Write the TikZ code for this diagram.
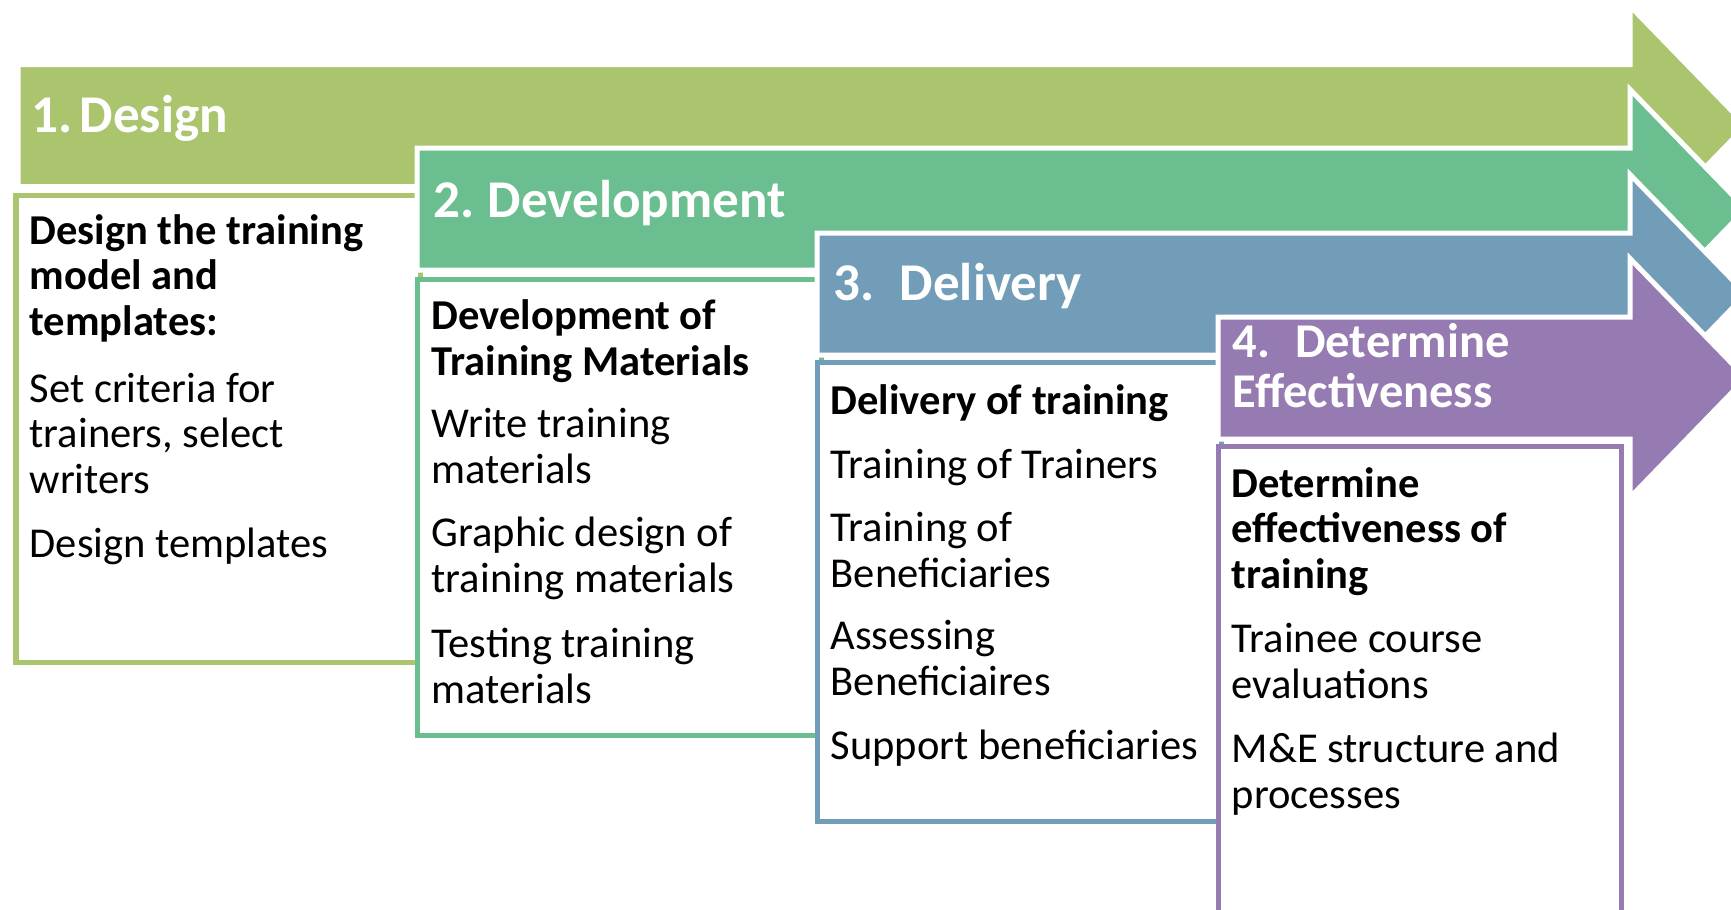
\documentclass[tikz,border=0pt]{standalone}
\usepackage{fontspec}
\setmainfont{Carlito}
\usetikzlibrary{positioning}

\definecolor{designgreen}{RGB}{171,196,110}
\definecolor{devgreen}{RGB}{106,190,143}
\definecolor{deliveryblue}{RGB}{113,157,184}
\definecolor{effectpurple}{RGB}{149,123,177}

\begin{document}
\begin{tikzpicture}[x=0.01cm, y=-0.01cm,
    steparrow/.style={fill=#1, draw=white, line width=0.05cm},
    stepbox/.style={fill=white, draw=#1, line width=0.05cm},
    headtext/.style={anchor=base west, inner sep=0pt, align=left, text=white,
        font=\fontsize{15.1}{14.2}\selectfont\bfseries},
    boldtext/.style={anchor=base west, inner sep=0pt, align=left,
        font=\fontsize{12.1}{12.9}\selectfont\bfseries},
    plaintext/.style={anchor=base west, inner sep=0pt, align=left,
        font=\fontsize{12.1}{12.9}\selectfont}]
    \useasboundingbox (0,0) rectangle (1731,909);
    \clip (0,0) rectangle (1731,909);

    % step 1 (base anchor = last line)
    \filldraw[steparrow=designgreen] (18,64.5) -- (1630,64.5) -- (1630,6)
    -- (1746,125.5) -- (1630,245) -- (1630,186.5) -- (18,186.5) -- cycle;
    \filldraw[stepbox=designgreen] (16,195.5) rectangle (420,662);
    \node[headtext] (designhead) at (31,132) {1.\hspace{0.07cm}Design};
    \node[boldtext] (designtitle) at (29,335) {Design the training\\model and\\templates:};
    \node[plaintext] (designitema) at (29,493) {Set criteria for\\trainers, select\\writers};
    \node[plaintext] (designitemb) at (29,557) {Design templates};

    % step 2
    \filldraw[steparrow=devgreen] (417,148) -- (1630,148) -- (1630,89.5)
    -- (1746,209) -- (1630,328.5) -- (1630,270) -- (417,270) -- cycle;
    \filldraw[stepbox=devgreen] (417,279.5) rectangle (821,735.5);
    \node[headtext] (devhead) at (433,217) {2.\hspace{0.13cm}Development};
    \node[boldtext] (devtitle) at (431,375) {Development of\\Training Materials};
    \node[plaintext] (devitema) at (431,483) {Write training\\materials};
    \node[plaintext] (devitemb) at (431,592) {Graphic design of\\training materials};
    \node[plaintext] (devitemc) at (431,703) {Testing training\\materials};

    % step 3
    \filldraw[steparrow=deliveryblue] (817,233) -- (1630,233) -- (1630,174.5)
    -- (1746,294) -- (1630,413.5) -- (1630,355) -- (817,355) -- cycle;
    \filldraw[stepbox=deliveryblue] (817,362.5) rectangle (1221,821);
    \node[headtext] (delhead) at (833,300) {3.\hspace{0.25cm}Delivery};
    \node[boldtext] (deltitle) at (830,414) {Delivery of training};
    \node[plaintext] (delitema) at (830,478) {Training of Trainers};
    \node[plaintext] (delitemb) at (830,587) {Training of\\Beneficiaries};
    \node[plaintext] (delitemc) at (830,695) {Assessing\\Beneficiaires};
    \node[plaintext] (delitemd) at (830,759) {Support beneficiaries};

    % step 4
    \filldraw[steparrow=effectpurple] (1218,317) -- (1630,317) -- (1630,258.5)
    -- (1746,378) -- (1630,497.5) -- (1630,439) -- (1218,439) -- cycle;
    \filldraw[stepbox=effectpurple] (1218,446.5) rectangle (1621,930);
    \node[headtext, font=\fontsize{13.8}{14.2}\selectfont\bfseries] (effhead)
        at (1232,407) {4.\hspace{0.25cm}Determine\\Effectiveness};
    \node[boldtext] (efftitle) at (1231,588) {Determine\\effectiveness of\\training};
    \node[plaintext] (effitema) at (1231,698) {Trainee course\\evaluations};
    \node[plaintext] (effitemb) at (1231,808) {M\&E structure and\\processes};
\end{tikzpicture}
\end{document}
